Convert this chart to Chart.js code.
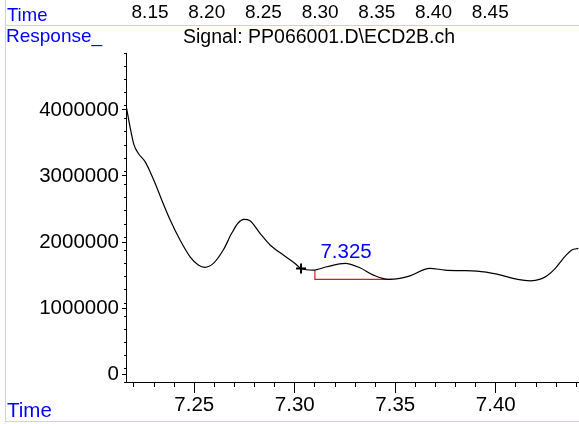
<!DOCTYPE html>
<html>
<head>
<meta charset="utf-8">
<title>Signal: PP066001.D\ECD2B.ch</title>
<script src="https://cdn.jsdelivr.net/npm/chart.js@4/dist/chart.umd.min.js"></script>
<style>
  html, body { margin: 0; padding: 0; background: #fff; }
  #chart { display: block; }
</style>
</head>
<body>
<canvas id="chart" width="579" height="424"></canvas>
<script>
// --- DATA ---

// Retention time, min (bottom axis)
const times = [
  7.2163, 7.2180, 7.2200, 7.2221, 7.2255, 7.2280, 7.2305, 7.2338, 7.2380, 7.2429,
  7.2479, 7.2520, 7.2553, 7.2595, 7.2644, 7.2686, 7.2719, 7.2747, 7.2777, 7.2827,
  7.2877, 7.2943, 7.3001, 7.3031, 7.3092, 7.3159, 7.3250, 7.3324, 7.3391, 7.3465,
  7.3523, 7.3573, 7.3672, 7.3747, 7.3822, 7.3906, 7.4006, 7.4108, 7.4172, 7.4222,
  7.4255, 7.4296, 7.4336, 7.4378, 7.4411
];

// Detector response
const response = [
  4026000, 3747000, 3470000, 3344000, 3217000, 3065000, 2889000, 2636000, 2333000, 2030000,
  1777000, 1652000, 1617000, 1677000, 1879000, 2132000, 2292000, 2344000, 2323000, 2132000,
  1955000, 1803000, 1677000, 1600000, 1576000, 1626000, 1677000, 1611000, 1500000, 1435000,
  1450000, 1489000, 1602000, 1576000, 1568000, 1561000, 1515000, 1435000, 1414000, 1440000,
  1490000, 1602000, 1753000, 1879000, 1905000
];

// Integration baseline of the 7.325 peak
const baselineTimes = [7.3100, 7.3100, 7.3482];
const baselineValues = [1576000, 1435000, 1435000];

// Peak label and the "+" marker
const peakTime = 7.325;
const peakValue = 1677000;
const peakLabel = '7.325';
const markerTime = 7.3031;
const markerValue = 1600000;

// Tick labels
const bottomTicks = [7.25, 7.30, 7.35, 7.40];
const topTicks = [8.15, 8.20, 8.25, 8.30, 8.35, 8.40, 8.45];
const yTicks = [0, 1000000, 2000000, 3000000, 4000000];

// Axis ranges
const xRange = [7.21602, 7.44139];
const topRange = [8.1288, 8.5283];
const yRange = [-117000, 4860000];

// --- RENDERING ---

const FONT = 'Liberation Sans, Arial, sans-serif';
const BLUE = '#0000ff';
const FRAME = '#a8f0a8';

const toPoints = (xs, ys) => xs.map((x, i) => ({ x, y: ys[i] }));
const fixedTicks = list => scale => { scale.ticks = list.map(value => ({ value })); };

/**
 * Green frame, side captions and peak label.
 */
const decorPlugin = {
  id: 'decor',
  afterDraw(chart) {
    const { ctx, scales } = chart;
    ctx.save();

    // frame
    ctx.strokeStyle = FRAME;
    ctx.lineWidth = 1;
    ctx.beginPath();
    ctx.moveTo(5.5, 0); ctx.lineTo(5.5, 421.5);
    ctx.moveTo(5, 25.5); ctx.lineTo(579, 25.5);
    ctx.moveTo(5, 421.5); ctx.lineTo(579, 421.5);
    ctx.stroke();

    // captions
    ctx.textBaseline = 'alphabetic';
    ctx.textAlign = 'left';
    ctx.fillStyle = BLUE;
    ctx.font = '18.5px ' + FONT;
    ctx.fillText('Time', 7, 20.5);
    ctx.font = '19px ' + FONT;
    ctx.fillText('Response_', 6, 41.5);
    ctx.font = '20.5px ' + FONT;
    ctx.fillText('Time', 7, 416.5);

    ctx.fillStyle = '#000';
    ctx.font = '19.5px ' + FONT;
    ctx.fillText('Signal: PP066001.D\\ECD2B.ch', 183, 43);

    // peak label
    const px = scales.x.getPixelForValue(peakTime);
    const py = scales.y.getPixelForValue(peakValue);
    ctx.fillStyle = BLUE;
    ctx.font = '20.5px ' + FONT;
    ctx.textAlign = 'center';
    ctx.fillText(peakLabel, px + 1, py - 5);

    ctx.restore();
  }
};

const tickFont = { family: FONT, size: 20.5 };

new Chart(document.getElementById('chart'), {
  type: 'line',
  data: {
    datasets: [
      {
        data: toPoints(times, response),
        borderColor: '#000',
        borderWidth: 1.2,
        pointRadius: 0,
        cubicInterpolationMode: 'monotone',
        fill: false
      },
      {
        data: toPoints(baselineTimes, baselineValues),
        borderColor: '#e01818',
        borderWidth: 1.2,
        pointRadius: 0,
        tension: 0,
        fill: false
      },
      {
        data: [{ x: markerTime, y: markerValue }],
        showLine: false,
        pointStyle: 'cross',
        pointRadius: 5,
        pointBorderWidth: 2,
        pointBorderColor: '#000'
      }
    ]
  },
  options: {
    responsive: false,
    devicePixelRatio: 1,
    animation: false,
    layout: { padding: 0, autoPadding: false },
    plugins: { legend: { display: false }, tooltip: { enabled: false } },
    scales: {
      x: {
        type: 'linear', position: 'bottom', weight: 1,
        min: xRange[0], max: xRange[1],
        afterBuildTicks: fixedTicks(bottomTicks),
        afterFit: s => { s.height = 42; },
        border: { display: true, color: '#000', width: 1 },
        grid: { drawOnChartArea: false, drawTicks: true, tickLength: 11, tickColor: '#000' },
        ticks: { font: tickFont, color: '#000', padding: 0, maxRotation: 0, autoSkip: false,
                 callback: v => v.toFixed(2) }
      },
      xMinor: {
        type: 'linear', position: 'bottom', weight: 0,
        min: xRange[0], max: xRange[1],
        afterFit: s => { s.height = 0; },
        border: { display: false },
        grid: { drawOnChartArea: false, drawTicks: true, tickLength: 5, tickColor: '#000' },
        ticks: { display: false, stepSize: 0.01, includeBounds: false }
      },
      xTop: {
        type: 'linear', position: 'top',
        min: topRange[0], max: topRange[1],
        afterBuildTicks: fixedTicks(topTicks),
        afterFit: s => { s.height = 53; },
        border: { display: false },
        grid: { display: false, drawTicks: false },
        ticks: { font: { family: FONT, size: 19 }, color: '#000', padding: 29, maxRotation: 0,
                 autoSkip: false, callback: v => v.toFixed(2) }
      },
      y: {
        type: 'linear', position: 'left', weight: 1,
        min: yRange[0], max: yRange[1],
        afterBuildTicks: fixedTicks(yTicks),
        afterFit: s => { s.width = 126; },
        border: { display: true, color: '#000', width: 1 },
        grid: { drawOnChartArea: false, drawTicks: true, tickLength: 4, tickColor: '#000' },
        ticks: { font: tickFont, color: '#000', padding: 3, autoSkip: false,
                 callback: v => String(v) }
      },
      yMinor: {
        type: 'linear', position: 'left', weight: 0,
        min: yRange[0], max: yRange[1],
        afterFit: s => { s.width = 0; },
        border: { display: false },
        grid: { drawOnChartArea: false, drawTicks: true, tickLength: 2, tickColor: '#000' },
        ticks: { display: false, stepSize: 200000, includeBounds: false }
      }
    }
  },
  plugins: [decorPlugin]
});
</script>
</body>
</html>
